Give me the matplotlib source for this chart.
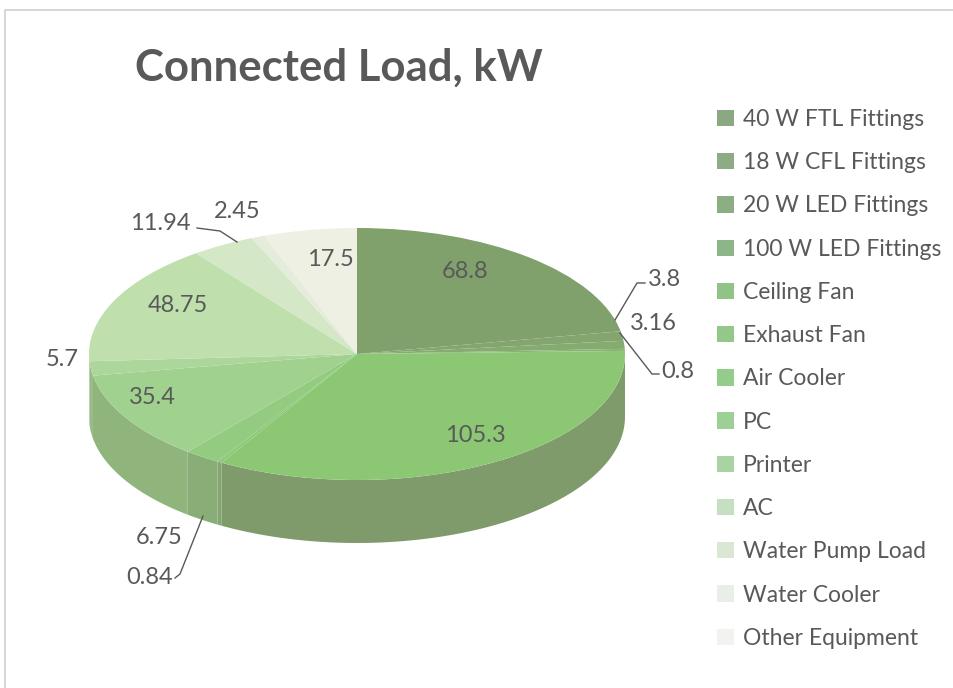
import numpy as np
import matplotlib.pyplot as plt
from matplotlib.patches import Polygon, Patch, Rectangle

plt.rcParams['font.family'] = ['Lato', 'DejaVu Sans']

# === DATA ===
categories = ["40 W FTL Fittings", "18 W CFL Fittings", "20 W LED Fittings",
              "100 W LED Fittings", "Ceiling Fan", "Exhaust Fan", "Air Cooler",
              "PC", "Printer", "AC", "Water Pump Load", "Water Cooler",
              "Other Equipment"]
loads_kw = [68.8, 3.8, 3.16, 0.8, 105.3, 0.84, 6.75, 35.4, 5.7, 48.75, 11.94, 2.45, 17.5]
value_labels = ["68.8", "3.8", "3.16", "0.8", "105.3", "0.84", "6.75", "35.4",
                "5.7", "48.75", "11.94", "2.45", "17.5"]

# === STYLE ===
top_colors = ["#80a06c", "#83a56e", "#86ab70", "#89b372", "#8cc874", "#8ec97a",
              "#93cb80", "#a0d18e", "#acd69c", "#bfe0ad", "#d4e8c8", "#e5ecdc",
              "#eef0e3"]
side_colors = ["#6f8a5e", "#728e60", "#749362", "#779a64", "#7f9b6c", "#84a772",
               "#88ad77", "#8fb57d", "#98ba88", "#a8c49a", "#bccdb2", "#ccd4c4",
               "#d6d8cc"]
legend_colors = ["#8aa882", "#8fab86", "#8bae84", "#8db688", "#90c487", "#93c889",
                 "#94cc8b", "#9ecf97", "#a8d4a1", "#c4e0c0", "#d9e7d3", "#e9eee7",
                 "#f2f3f0"]
TXT = "#595959"

W, H = 954, 688
CX, CY = 357, 354      # centre of the top ellipse (px)
RX, RY = 268, 126      # radii of the top ellipse (px)
DEPTH = 63             # thickness of the pie (px)


def px(x, y):
    # pixel position -> data coords of the pie axes
    return (x - CX) / RX, (CY - y) / RY


fig = plt.figure(figsize=(W / 100, H / 100), dpi=100)
ax = fig.add_axes([0, 0, 1, 1])

wedges, _ = ax.pie(loads_kw, colors=top_colors, startangle=90, counterclock=False,
                   wedgeprops=dict(linewidth=0))
ax.set_aspect('auto')
ax.set_xlim((0 - CX) / RX, (W - CX) / RX)
ax.set_ylim((CY - H) / RY, CY / RY)
ax.axis('off')

# side wall of the front half
d = DEPTH / RY
for w, c in zip(wedges, side_colors):
    t1, t2 = max(w.theta1, -180), min(w.theta2, 0)
    if t2 <= t1:
        continue
    t = np.radians(np.linspace(t1, t2, 60))
    top = np.column_stack([np.cos(t), np.sin(t)])
    bot = np.column_stack([np.cos(t[::-1]), np.sin(t[::-1]) - d])
    ax.add_patch(Polygon(np.vstack([top, bot]), closed=True, facecolor=c,
                         edgecolor='none', zorder=0.5))

# data labels
label_pos = {
    "68.8": (465, 272, 'center'), "105.3": (475, 435, 'center'),
    "35.4": (152, 397, 'center'), "48.75": (178, 306, 'center'),
    "17.5": (330, 260, 'center'), "3.8": (648, 280, 'left'),
    "3.16": (630, 324, 'left'), "0.8": (661, 372, 'left'),
    "5.7": (46, 360, 'left'), "11.94": (191, 224, 'right'),
    "2.45": (214, 211, 'left'), "6.75": (183, 537, 'right'),
    "0.84": (173, 578, 'right'),
}
for lab in value_labels:
    x, y, ha = label_pos[lab]
    ax.text(*px(x, y), lab, ha=ha, va='center', fontsize=17, color=TXT)

# leader lines
leaders = [
    [(615, 320), (637, 283), (645, 283)],
    [(620, 333), (652, 374), (659, 374)],
    [(197, 228), (220, 231), (237, 242)],
    [(203, 516), (180, 574), (175, 578)],
]
for pts in leaders:
    xs, ys = zip(*[px(*p) for p in pts])
    ax.plot(xs, ys, color=TXT, lw=1)

# title
fig.text(135 / W, 1 - 68 / H, "Connected Load, kW", fontsize=31.5, fontweight='bold',
         color=TXT, ha='left', va='center')

# legend
handles = [Patch(facecolor=c, edgecolor='none') for c in legend_colors]
fig.legend(handles, categories, loc='upper left', bbox_to_anchor=(717 / W, 1 - 109 / H),
           frameon=False, fontsize=16.5, labelcolor=TXT, handlelength=0.72,
           handleheight=0.72, handletextpad=0.4, labelspacing=0.97, borderpad=0,
           borderaxespad=0)

# chart border
fig.patches.append(Rectangle((5 / W, -0.05), 1.1, 1 - 10 / H + 0.05,
                             transform=fig.transFigure, fill=False,
                             edgecolor="#cfcfcf", lw=1.2))

plt.savefig("out.png", dpi=100)
